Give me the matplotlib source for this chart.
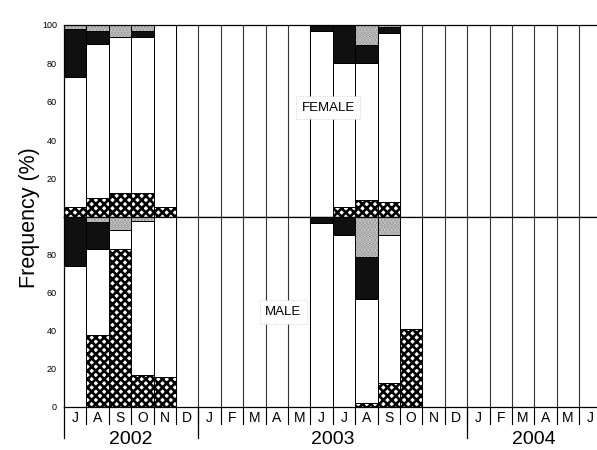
import matplotlib

matplotlib.use("Agg")

import matplotlib.pyplot as plt
import matplotlib.transforms as mtransforms
import numpy as np

plt.rcParams["font.family"] = ["Liberation Sans", "DejaVu Sans"]
plt.rcParams["hatch.linewidth"] = 1.9

# %% Data (percent of each category per month, Jul 2002 .. Jun 2004)
months = ["J", "A", "S", "O", "N", "D",
          "J", "F", "M", "A", "M", "J", "J", "A", "S", "O", "N", "D",
          "J", "F", "M", "A", "M", "J"]
years = ["2002", "2003", "2004"]
year_start = [0, 6, 18]
year_end = [6, 18, 24]

# female stacks (bottom -> top): checkered, white, black, dotted
fem_check = [5, 10, 12.5, 12.5, 5, 0, 0, 0, 0, 0, 0, 0, 5, 9, 8, 0, 0, 0, 0, 0, 0, 0, 0, 0]
fem_white = [68, 80, 81.5, 81, 95, 0, 0, 0, 0, 0, 0, 97, 75, 71, 88, 0, 0, 0, 0, 0, 0, 0, 0, 0]
fem_black = [25, 7, 0, 3.5, 0, 0, 0, 0, 0, 0, 0, 3, 20, 9.6, 3, 0, 0, 0, 0, 0, 0, 0, 0, 0]
fem_dots = [2, 3, 6, 3, 0, 0, 0, 0, 0, 0, 0, 0, 0, 10.4, 1, 0, 0, 0, 0, 0, 0, 0, 0, 0]

# male stacks
male_check = [0, 38, 83, 17, 16, 0, 0, 0, 0, 0, 0, 0, 0, 2, 12.5, 41, 0, 0, 0, 0, 0, 0, 0, 0]
male_white = [74, 45, 10, 81, 84, 0, 0, 0, 0, 0, 0, 97, 90.5, 55, 78, 59, 0, 0, 0, 0, 0, 0, 0, 0]
male_black = [26, 14.5, 0, 0, 0, 0, 0, 0, 0, 0, 0, 3, 9.5, 22, 0, 0, 0, 0, 0, 0, 0, 0, 0, 0]
male_dots = [0, 2.5, 7, 2, 0, 0, 0, 0, 0, 0, 0, 0, 0, 21, 9.5, 0, 0, 0, 0, 0, 0, 0, 0, 0]

N = len(months)
x = np.arange(N) + 0.5
XMAX = 23.8

fig = plt.figure(figsize=(5.97, 4.5), dpi=100)
L = 64 / 597
ax_f = fig.add_axes([L, (450 - 217) / 450, 1 - L, 192 / 450])
ax_m = fig.add_axes([L, (450 - 407) / 450, 1 - L, 190 / 450])


def draw_panel(ax, check, white, black, dots):
    check = np.array(check, float)
    white = np.array(white, float)
    black = np.array(black, float)
    dots = np.array(dots, float)
    for k in range(1, N):
        ax.axvline(k, color="#333333", lw=0.8, zorder=1)
    kw = dict(width=1.0, align="center", linewidth=0.7, zorder=2)
    ax.bar(x, check, bottom=0, facecolor="white", edgecolor="black", hatch="xxxx", **kw)
    ax.bar(x, white, bottom=check, facecolor="white", edgecolor="black", **kw)
    ax.bar(x, black, bottom=check + white, facecolor="#101010", edgecolor="black", **kw)
    b = check + white + black
    ax.bar(x, dots, bottom=b, facecolor="#e2e2e2", edgecolor="#8a8a8a", hatch=".....", **kw)
    ax.bar(x, dots, bottom=b, fill=False, edgecolor="black", width=1.0, linewidth=0.7, zorder=3)
    ax.set_xlim(0, XMAX)
    ax.set_ylim(0, 100)
    ax.set_xticks([])
    ax.spines["right"].set_visible(False)
    for s in ["left", "top", "bottom"]:
        ax.spines[s].set_linewidth(0.9)
    ax.tick_params(axis="y", direction="in", length=3, width=0.7, labelsize=6.5, pad=5)


draw_panel(ax_f, fem_check, fem_white, fem_black, fem_dots)
draw_panel(ax_m, male_check, male_white, male_black, male_dots)
ax_f.set_yticks([20, 40, 60, 80, 100])
ax_m.set_yticks([0, 20, 40, 60, 80])

box = dict(facecolor="white", edgecolor="#bbbbbb", linestyle=":", linewidth=0.5, pad=4)
ax_f.text(11.8, 57, "FEMALE", ha="center", va="center", fontsize=9.5, bbox=box, zorder=5)
ax_m.text(9.8, 50, "MALE", ha="center", va="center", fontsize=9.5, bbox=box, zorder=5)

fig.text(0.05, (450 - 218) / 450, "Frequency (%)", rotation=90, ha="center", va="center", fontsize=15.5)

# month / year labels below the lower panel
trans = mtransforms.blended_transform_factory(ax_m.transData, fig.transFigure)


def fy(py):
    return (450 - py) / 450


for i, m in enumerate(months):
    ax_m.text(x[i], fy(418), m, transform=trans, ha="center", va="center", fontsize=10)
for k in range(1, N):
    ax_m.plot([k, k], [fy(407), fy(424)], transform=trans, color="black", lw=0.8, clip_on=False)
for s, e, y in zip(year_start, year_end, years):
    ax_m.plot([s, s], [fy(407), fy(438)], transform=trans, color="black", lw=0.9, clip_on=False)
    ax_m.text((s + e) / 2, fy(440), y, transform=trans, ha="center", va="center", fontsize=14)

fig.savefig("out.png", dpi=100)
